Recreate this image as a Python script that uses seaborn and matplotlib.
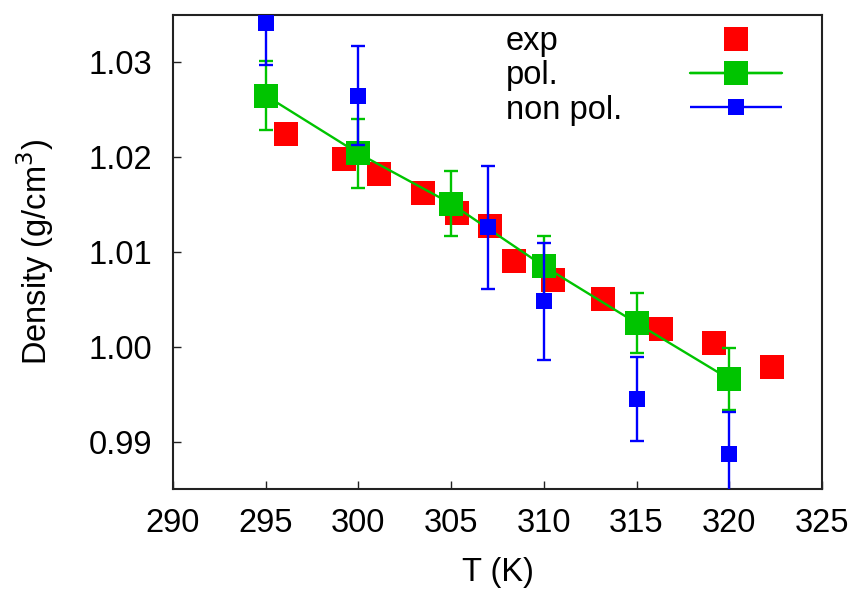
import numpy as np
import pandas as pd
import seaborn as sns
import matplotlib
matplotlib.use("Agg")
import matplotlib.pyplot as plt
from matplotlib.lines import Line2D
from matplotlib.container import ErrorbarContainer
from matplotlib.legend_handler import HandlerErrorbar
from matplotlib.ticker import FormatStrFormatter

# ---- data ----
exp_T = [296.1, 299.2, 301.1, 303.5, 305.3, 307.1, 308.4, 310.5, 313.2, 316.3, 319.2, 322.3]
exp_rho = [1.0225, 1.0198, 1.0182, 1.0162, 1.0141, 1.0127, 1.0091, 1.0070, 1.0050, 1.0019, 1.0004, 0.9979]

pol_T = [295, 300, 305, 310, 315, 320]
pol_rho = [1.0265, 1.0204, 1.0151, 1.0085, 1.0025, 0.9966]
pol_err = [0.0036, 0.0036, 0.0034, 0.0032, 0.0032, 0.0033]

npol_T = [295, 300, 307, 310, 315, 320]
npol_rho = [1.0342, 1.0265, 1.0126, 1.0048, 0.9945, 0.9887]
npol_err = [0.0045, 0.0052, 0.0065, 0.0062, 0.0044, 0.0044]

labels = ["exp", "pol.", "non pol."]
x_ticks = [290, 295, 300, 305, 310, 315, 320, 325]
y_ticks = [0.99, 1.00, 1.01, 1.02, 1.03]

RED = "#ff0000"
GREEN = "#00c400"
BLUE = "#0000ff"

sns.set_style("white")
plt.rcParams["font.family"] = ["Liberation Sans", "DejaVu Sans"]
plt.rcParams["text.color"] = "black"
plt.rcParams["axes.labelcolor"] = "black"
plt.rcParams["xtick.color"] = "black"
plt.rcParams["ytick.color"] = "black"
FS = 23.5

fig = plt.figure(figsize=(8.59, 5.90), dpi=100)
ax = fig.add_axes([173 / 859, 1 - 489 / 590, (822 - 173) / 859, (489 - 15) / 590])

exp_df = pd.DataFrame({"T": exp_T, "rho": exp_rho})
pol_df = pd.DataFrame({"T": pol_T, "rho": pol_rho, "err": pol_err})
npol_df = pd.DataFrame({"T": npol_T, "rho": npol_rho, "err": npol_err})

MS_BIG = 17.3
MS_SMALL = 11.5
LW = 1.7
CAP = 5

# exp
sns.scatterplot(data=exp_df, x="T", y="rho", ax=ax, marker="s", s=MS_BIG ** 2,
                color=RED, linewidth=0, zorder=2, legend=False)
# pol.
ax.errorbar(pol_df["T"], pol_df["rho"], yerr=pol_df["err"], fmt="none",
            ecolor=GREEN, elinewidth=LW, capsize=CAP, capthick=LW, zorder=3)
sns.lineplot(data=pol_df, x="T", y="rho", ax=ax, color=GREEN, linewidth=LW,
             marker="s", markersize=MS_BIG, markeredgewidth=0, zorder=3, legend=False)
# non pol.
ax.errorbar(npol_df["T"], npol_df["rho"], yerr=npol_df["err"], fmt="none",
            ecolor=BLUE, elinewidth=LW, capsize=CAP, capthick=LW, zorder=4)
sns.scatterplot(data=npol_df, x="T", y="rho", ax=ax, marker="s", s=MS_SMALL ** 2,
                color=BLUE, linewidth=0, zorder=4, legend=False)

# legend proxies (horizontal error bars like gnuplot keys)
h_exp = Line2D([], [], ls="none", marker="s", markersize=MS_BIG, color=RED, markeredgewidth=0)
h_pol = ax.errorbar([np.nan], [np.nan], xerr=[1], fmt="s", color=GREEN, ms=MS_BIG, mew=0,
                    ls="-", lw=LW, elinewidth=LW, capsize=CAP, capthick=LW)
h_npol = ax.errorbar([np.nan], [np.nan], xerr=[1], fmt="s", color=BLUE, ms=MS_SMALL, mew=0,
                     ls="none", elinewidth=LW, capsize=CAP, capthick=LW)

LSP = 0.1
TOP = 1 - 26 / 590
# text column (left-justified, like gnuplot "set key Left")
blank = [Line2D([], [], alpha=0) for _ in labels]
leg_txt = ax.legend(blank, labels, loc="upper left", bbox_to_anchor=(506 / 859, TOP),
                    bbox_transform=fig.transFigure, frameon=False, fontsize=FS,
                    handlelength=0, handletextpad=0, labelspacing=LSP,
                    borderpad=0, borderaxespad=0)
ax.add_artist(leg_txt)
# sample column
leg_smp = ax.legend([h_exp, h_pol, h_npol], ["", "", ""],
                    handler_map={ErrorbarContainer: HandlerErrorbar(xerr_size=1.4)},
                    loc="upper left", bbox_to_anchor=(690 / 859, TOP),
                    bbox_transform=fig.transFigure, frameon=False, fontsize=FS,
                    handlelength=2.82, handletextpad=0, labelspacing=LSP,
                    borderpad=0, borderaxespad=0)

ax.set_xlim(290, 325)
ax.set_ylim(0.985, 1.035)
ax.set_xticks(x_ticks)
ax.set_yticks(y_ticks)
ax.yaxis.set_major_formatter(FormatStrFormatter("%.2f"))
ax.tick_params(axis="both", which="major", direction="in", length=6, width=1,
               labelsize=FS, colors="#222222", labelcolor="black",
               bottom=True, left=True, top=False, right=False)
ax.tick_params(axis="x", pad=14)
ax.tick_params(axis="y", pad=15)
for sp in ax.spines.values():
    sp.set_visible(True)
    sp.set_linewidth(1.5)
    sp.set_color("#222222")

ax.set_xlabel("T (K)", fontsize=FS, labelpad=13, color="black")
ax.set_ylabel("Density (g/cm$^3$)", fontsize=FS, labelpad=23, color="black")

fig.savefig("out.png", dpi=100)
